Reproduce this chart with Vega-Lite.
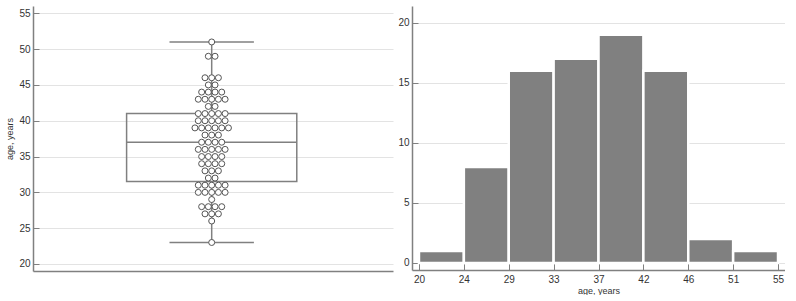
{
  "$schema": "https://vega.github.io/schema/vega-lite/v6.json",
  "padding": {"left": 5, "top": 6, "right": 0, "bottom": 0},
  "background": "white",
  "spacing": 4,
  "config": {
    "font": "Liberation Sans",
    "view": {"stroke": null},
    "axis": {
      "domainColor": "#808080",
      "domainWidth": 1.5,
      "tickColor": "#808080",
      "tickWidth": 1,
      "gridColor": "#e3e3e3",
      "gridWidth": 1,
      "labelColor": "#333333",
      "labelFontSize": 10,
      "labelOverlap": false,
      "titleColor": "#333333",
      "titleFontSize": 9,
      "titleFontWeight": "normal"
    }
  },
  "datasets": {
    "ages": [
      {"age":23},
      {"age":26},
      {"age":27},{"age":27},{"age":27},
      {"age":28},{"age":28},{"age":28},{"age":28},
      {"age":29},
      {"age":30},{"age":30},{"age":30},{"age":30},{"age":30},
      {"age":31},{"age":31},{"age":31},{"age":31},{"age":31},
      {"age":32},{"age":32},
      {"age":33},{"age":33},{"age":33},
      {"age":34},{"age":34},{"age":34},{"age":34},
      {"age":35},{"age":35},{"age":35},{"age":35},
      {"age":36},{"age":36},{"age":36},{"age":36},{"age":36},
      {"age":37},{"age":37},{"age":37},{"age":37},
      {"age":38},{"age":38},{"age":38},
      {"age":39},{"age":39},{"age":39},{"age":39},{"age":39},{"age":39},
      {"age":40},{"age":40},{"age":40},{"age":40},{"age":40},
      {"age":41},{"age":41},{"age":41},{"age":41},{"age":41},
      {"age":42},{"age":42},
      {"age":43},{"age":43},{"age":43},{"age":43},{"age":43},
      {"age":44},{"age":44},{"age":44},{"age":44},
      {"age":45},{"age":45},
      {"age":46},{"age":46},{"age":46},
      {"age":49},{"age":49},
      {"age":51}
    ],
    "box": [
      {"lo": 23, "q1": 31.5, "median": 37, "q3": 41, "hi": 51}
    ],
    "hist": [
      {"start": 20, "end": 24.375, "count": 1},
      {"start": 24.375, "end": 28.75, "count": 8},
      {"start": 28.75, "end": 33.125, "count": 16},
      {"start": 33.125, "end": 37.5, "count": 17},
      {"start": 37.5, "end": 41.875, "count": 19},
      {"start": 41.875, "end": 46.25, "count": 16},
      {"start": 46.25, "end": 50.625, "count": 2},
      {"start": 50.625, "end": 55, "count": 1}
    ]
  },
  "hconcat": [
    {
      "width": 360,
      "height": 265,
      "encoding": {
        "x": {"type": "quantitative", "scale": {"domain": [-26.67, 27.06], "nice": false, "zero": false},
              "axis": {"labels": false, "ticks": false, "grid": false, "title": null, "domain": true}},
        "y": {"type": "quantitative", "scale": {"domain": [19.02, 56.02], "nice": false, "zero": false},
              "axis": {"values": [20, 25, 30, 35, 40, 45, 50, 55], "title": "age, years", "grid": true, "tickSize": -6, "labelPadding": 9, "titlePadding": 4}}
      },
      "layer": [
        {
          "data": {"name": "box"},
          "mark": {"type": "rect", "fill": "transparent", "stroke": "#808080", "strokeWidth": 1.5},
          "encoding": {
            "x": {"datum": -12.7},
            "x2": {"datum": 12.7},
            "y": {"field": "q1"},
            "y2": {"field": "q3"}
          }
        },
        {
          "data": {"name": "box"},
          "mark": {"type": "rule", "stroke": "#808080", "strokeWidth": 1.5},
          "encoding": {
            "x": {"datum": -12.7},
            "x2": {"datum": 12.7},
            "y": {"field": "median"}
          }
        },
        {
          "data": {"name": "box"},
          "mark": {"type": "rule", "stroke": "#808080", "strokeWidth": 1.5},
          "encoding": {
            "x": {"datum": 0},
            "y": {"field": "q3"},
            "y2": {"field": "hi"}
          }
        },
        {
          "data": {"name": "box"},
          "mark": {"type": "rule", "stroke": "#808080", "strokeWidth": 1.5},
          "encoding": {
            "x": {"datum": 0},
            "y": {"field": "lo"},
            "y2": {"field": "q1"}
          }
        },
        {
          "data": {"name": "box"},
          "mark": {"type": "rule", "stroke": "#808080", "strokeWidth": 1.5},
          "encoding": {
            "x": {"datum": -6.3},
            "x2": {"datum": 6.3},
            "y": {"field": "hi"}
          }
        },
        {
          "data": {"name": "box"},
          "mark": {"type": "rule", "stroke": "#808080", "strokeWidth": 1.5},
          "encoding": {
            "x": {"datum": -6.3},
            "x2": {"datum": 6.3},
            "y": {"field": "lo"}
          }
        },
        {
          "data": {"name": "ages"},
          "transform": [
            {"window": [{"op": "row_number", "as": "rank"}], "groupby": ["age"]},
            {"joinaggregate": [{"op": "count", "as": "n"}], "groupby": ["age"]},
            {"calculate": "datum.rank - (datum.n + 1) / 2", "as": "offset"}
          ],
          "mark": {"type": "point", "shape": "circle", "filled": true, "fill": "white", "stroke": "#555555", "strokeWidth": 1, "size": 36, "opacity": 1},
          "encoding": {
            "x": {"field": "offset"},
            "y": {"field": "age"}
          }
        }
      ]
    },
    {
      "width": 373,
      "height": 264,
      "data": {"name": "hist"},
      "mark": {"type": "rect", "fill": "#808080", "stroke": "white", "strokeWidth": 2.5},
      "encoding": {
        "x": {"field": "start", "type": "quantitative",
              "scale": {"domain": [19.32, 55.68], "nice": false, "zero": false},
              "axis": {"values": [20, 24.375, 28.75, 33.125, 37.5, 41.875, 46.25, 50.625, 55],
                       "labelExpr": "datum.value == 37.5 ? '37' : format(datum.value, '.0f')",
                       "title": "age, years", "grid": false, "tickSize": -7, "labelPadding": 11, "titlePadding": 2}},
        "x2": {"field": "end"},
        "y": {"field": "count", "type": "quantitative",
              "scale": {"domain": [-0.583, 21.39], "nice": false, "zero": false},
              "axis": {"values": [0, 5, 10, 15, 20], "title": null, "grid": true, "tickSize": -6, "labelPadding": 9}},
        "y2": {"datum": 0}
      }
    }
  ]
}
